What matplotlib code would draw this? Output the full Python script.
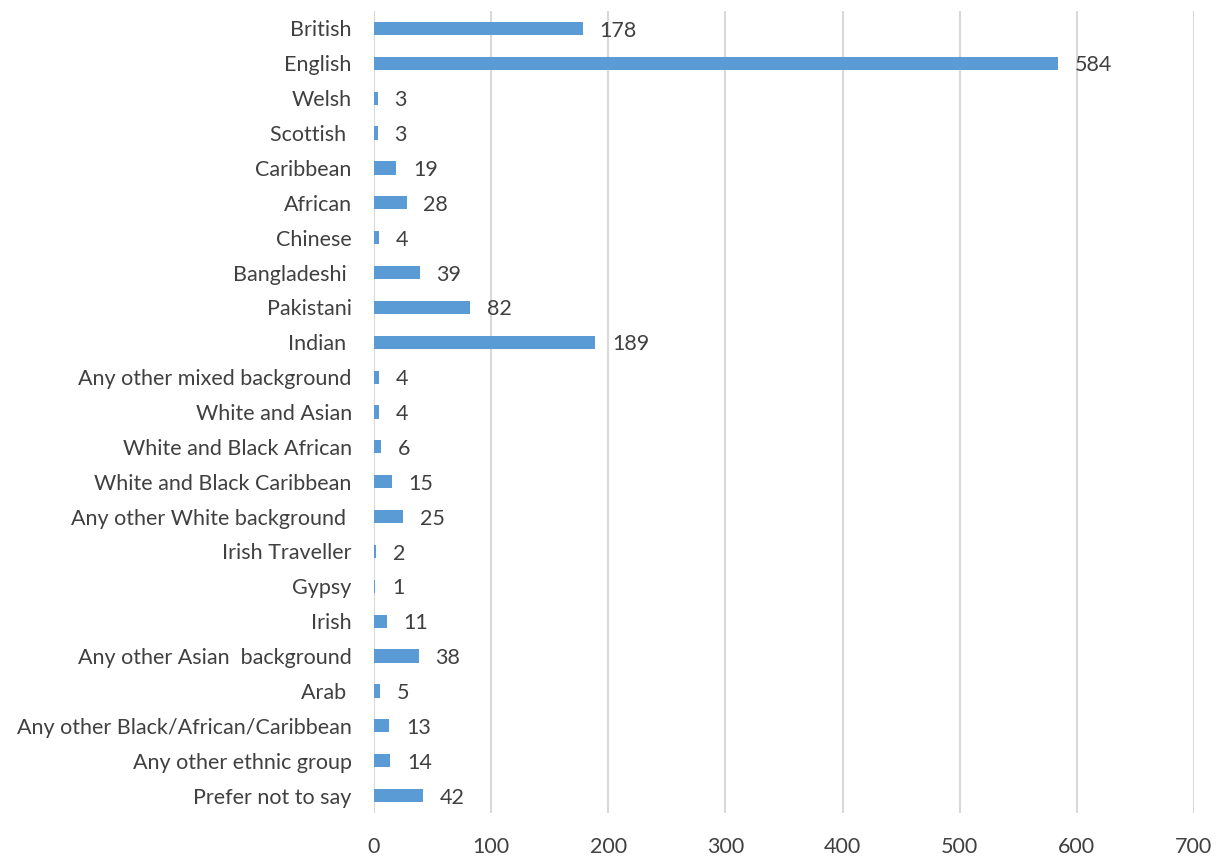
import matplotlib.pyplot as plt

# categories, top to bottom as in the chart
categories = ['British', 'English', 'Welsh', 'Scottish ', 'Caribbean', 'African', 'Chinese',
              'Bangladeshi ', 'Pakistani', 'Indian ', 'Any other mixed background',
              'White and Asian', 'White and Black African', 'White and Black Caribbean',
              'Any other White background ', 'Irish Traveller', 'Gypsy', 'Irish',
              'Any other Asian  background', 'Arab ', 'Any other Black/African/Caribbean',
              'Any other ethnic group', 'Prefer not to say']
counts = [178, 584, 3, 3, 19, 28, 4, 39, 82, 189, 4, 4, 6, 15, 25, 2, 1, 11, 38, 5, 13, 14, 42]
xticks = [0, 100, 200, 300, 400, 500, 600, 700]

plt.rcParams['font.family'] = ['Lato', 'DejaVu Sans']
text_col = '#404040'
fs = 15.5

fig = plt.figure(figsize=(12.17, 8.56), dpi=100)
ax = fig.add_axes([374 / 1217, 1 - 813 / 856, 820 / 1217, 802 / 856])

pos = list(range(len(categories)))
ax.barh(pos, counts, height=0.38, color='#5B9BD5', zorder=3)
for p, v in zip(pos, counts):
    ax.annotate(str(v), (v, p), xytext=(12, -1.5), textcoords='offset points',
                va='center', ha='left', fontsize=fs, color=text_col)

ax.set_xlim(0, 700)
ax.set_ylim(len(categories) - 0.5, -0.5)
ax.set_xticks(xticks)
ax.set_yticks(pos)
ax.set_yticklabels(categories)
ax.tick_params(axis='y', length=0, pad=16, labelsize=fs, labelcolor=text_col)
ax.tick_params(axis='x', length=0, pad=17, labelsize=fs, labelcolor=text_col)
ax.grid(axis='x', color='#d9d9d9', linewidth=1.5, zorder=0)
for s in ax.spines.values():
    s.set_visible(False)

fig.savefig('out.png', dpi=100)
